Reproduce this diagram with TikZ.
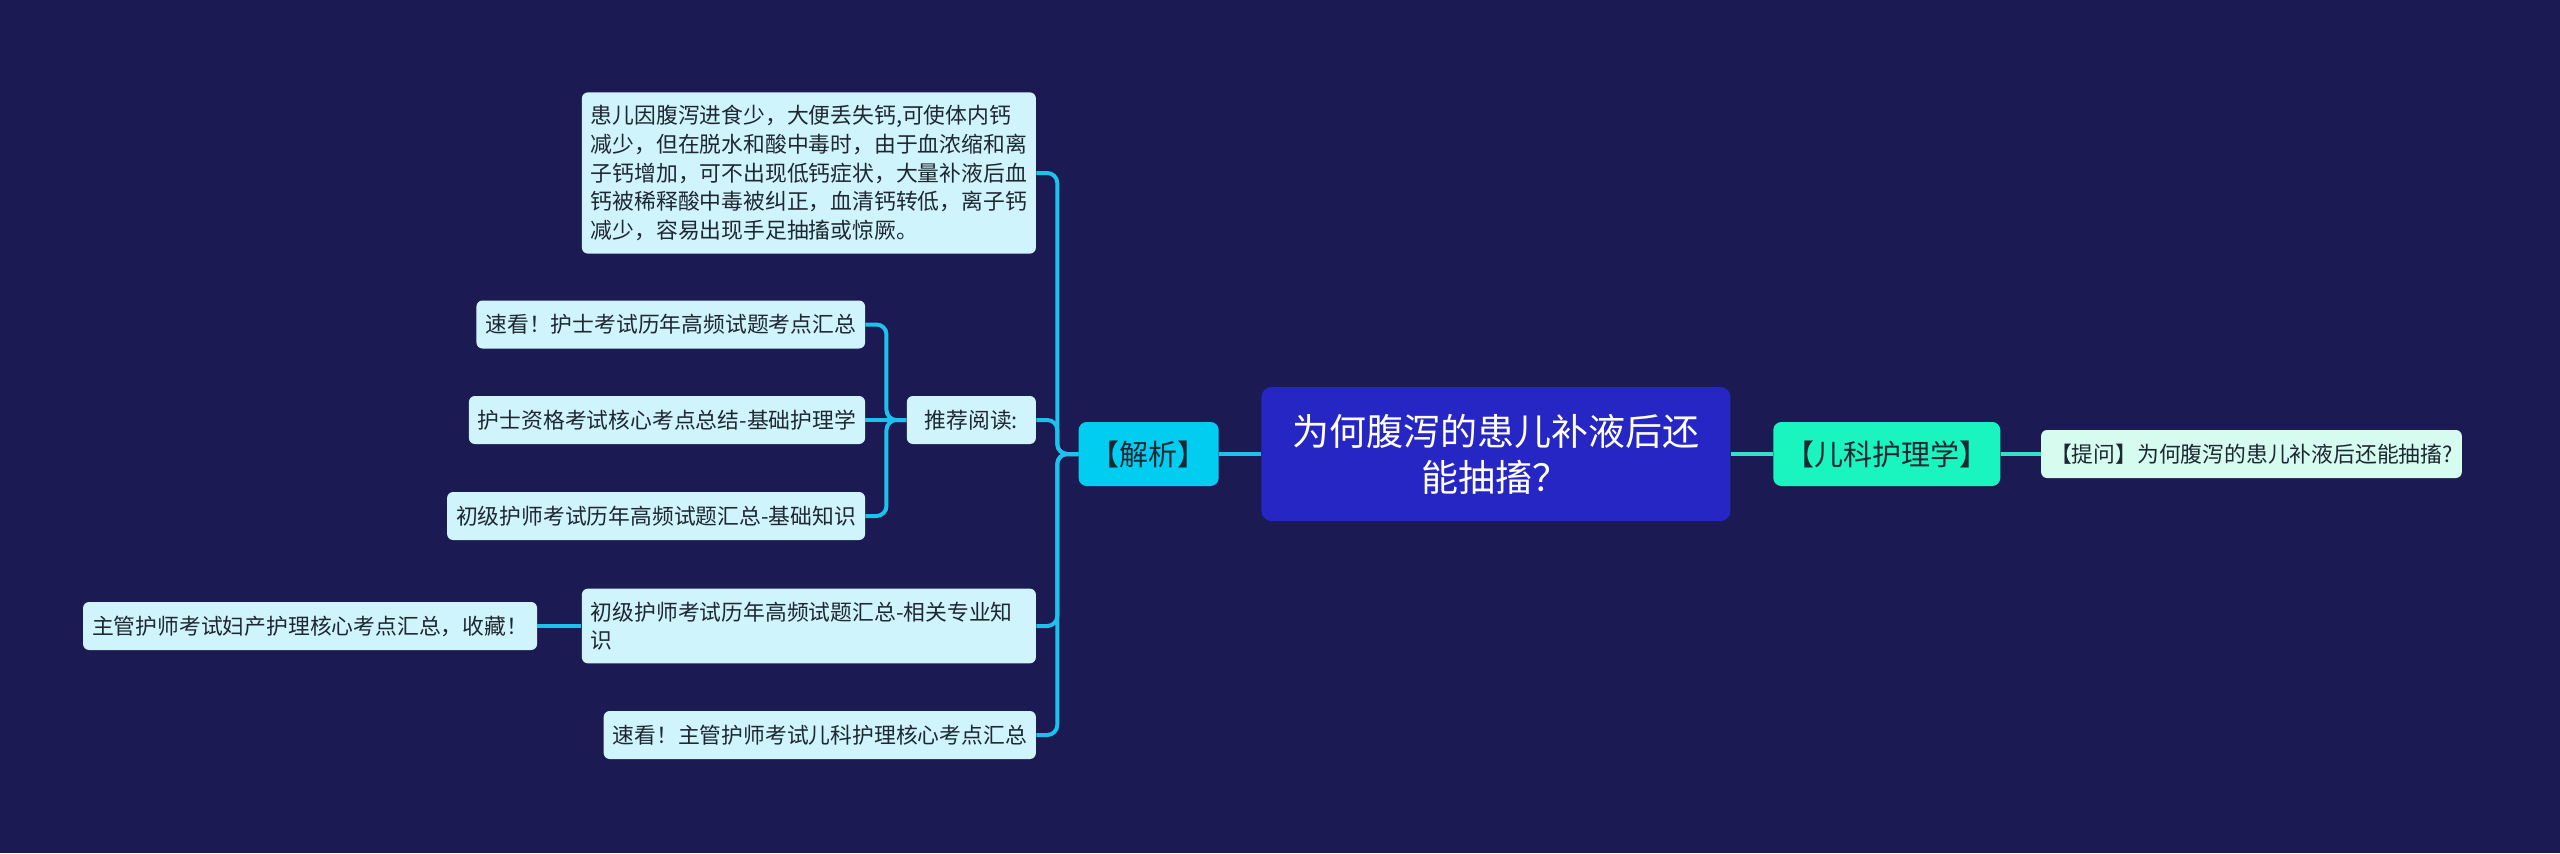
\documentclass[tikz,border=0pt]{standalone}
\usepackage{fontspec}
\setmainfont{Noto Sans CJK SC}
\usetikzlibrary{positioning}
\definecolor{bgnavy}{RGB}{27,26,82}
\definecolor{rootblue}{RGB}{38,38,196}
\definecolor{jxcyan}{RGB}{0,205,240}
\definecolor{kmteal}{RGB}{26,245,192}
\definecolor{leafcyan}{RGB}{208,244,251}
\definecolor{leafmint}{RGB}{214,252,240}
\definecolor{linecyan}{RGB}{30,192,236}
\definecolor{lineteal}{RGB}{54,224,200}
\definecolor{inkdark}{RGB}{30,40,50}
\newcommand{\leaffont}{\fontsize{10.9pt}{14.3pt}\selectfont}

\begin{document}
\begin{tikzpicture}[
                node distance = 21pt,
                root/.style = {rectangle, rounded corners=5pt, fill=rootblue, text=white, align=center,
                               minimum width=234.5pt, minimum height=67pt,
                               font=\fontsize{18.5pt}{23pt}\selectfont},
                branch/.style = {rectangle, rounded corners=4pt, text=inkdark, minimum height=32pt,
                                 inner xsep=6pt, font=\fontsize{14.5pt}{18pt}\selectfont},
                leaf/.style = {rectangle, rounded corners=3pt, fill=leafcyan, text=inkdark,
                               minimum height=24pt, inner xsep=4.5pt, font=\leaffont},
                block/.style = {leaf, text width=218pt, align=left, inner ysep=6.5pt},
                link/.style = {draw=linecyan, line width=2pt, rounded corners=5pt},
                linkr/.style = {draw=lineteal, line width=2pt}
              ]
              \useasboundingbox[fill=bgnavy] (-748pt,-199.5pt) rectangle (532pt,227pt);
              % Main topics
              \node[root] (root) {为何腹泻的患儿补液后还\\能抽搐？};
              \node[branch, fill=jxcyan, left=of root] (jiexi) {【解析】};
              \node[branch, fill=kmteal, right=of root] (kemu) {【儿科护理学】};
              \node[leaf, fill=leafmint, right=20pt of kemu] (tiwen) {【提问】为何腹泻的患儿补液后还能抽搐?};
              % Under jiexi
              \node[block, left=of jiexi, yshift=140.5pt] (yuanyin) {患儿因腹泻进食少，大便丢失钙,可使体内钙\\减少，但在脱水和酸中毒时，由于血浓缩和离\\子钙增加，可不出现低钙症状，大量补液后血\\钙被稀释酸中毒被纠正，血清钙转低，离子钙\\减少，容易出现手足抽搐或惊厥。};
              \node[leaf, minimum width=64.5pt, left=of jiexi, yshift=17pt] (tuijian) {推荐阅读:};
              \node[block, left=of jiexi, yshift=-86pt] (xiangguan) {初级护师考试历年高频试题汇总-相关专业知\\识};
              \node[leaf, left=of jiexi, yshift=-140.5pt] (suzhu) {速看！主管护师考试儿科护理核心考点汇总};
              % Reading list
              \node[leaf, left=20.5pt of tuijian, yshift=47.75pt] (suhu) {速看！护士考试历年高频试题考点汇总};
              \node[leaf, left=20.5pt of tuijian] (zige) {护士资格考试核心考点总结-基础护理学};
              \node[leaf, left=20.5pt of tuijian, yshift=-48pt] (chuji) {初级护师考试历年高频试题汇总-基础知识};
              \node[leaf, left=22pt of xiangguan] (fuchan) {主管护师考试妇产护理核心考点汇总，收藏！};
              % Links
              \draw[link] (root.west) -- (jiexi.east);
              \draw[linkr] (root.east) -- (kemu.west);
              \draw[linkr] (kemu.east) -- (tiwen.west);
              \foreach \n in {yuanyin, tuijian, xiangguan, suzhu}
                \draw[link] (jiexi.west) -- ++(-10.5pt,0) |- (\n.east);
              \foreach \n in {suhu, chuji}
                \draw[link] (tuijian.west) -- ++(-10pt,0) |- (\n.east);
              \draw[link] (tuijian.west) -- (zige.east);
              \draw[link] (xiangguan.west) -- (fuchan.east);
            \end{tikzpicture}
\end{document}
